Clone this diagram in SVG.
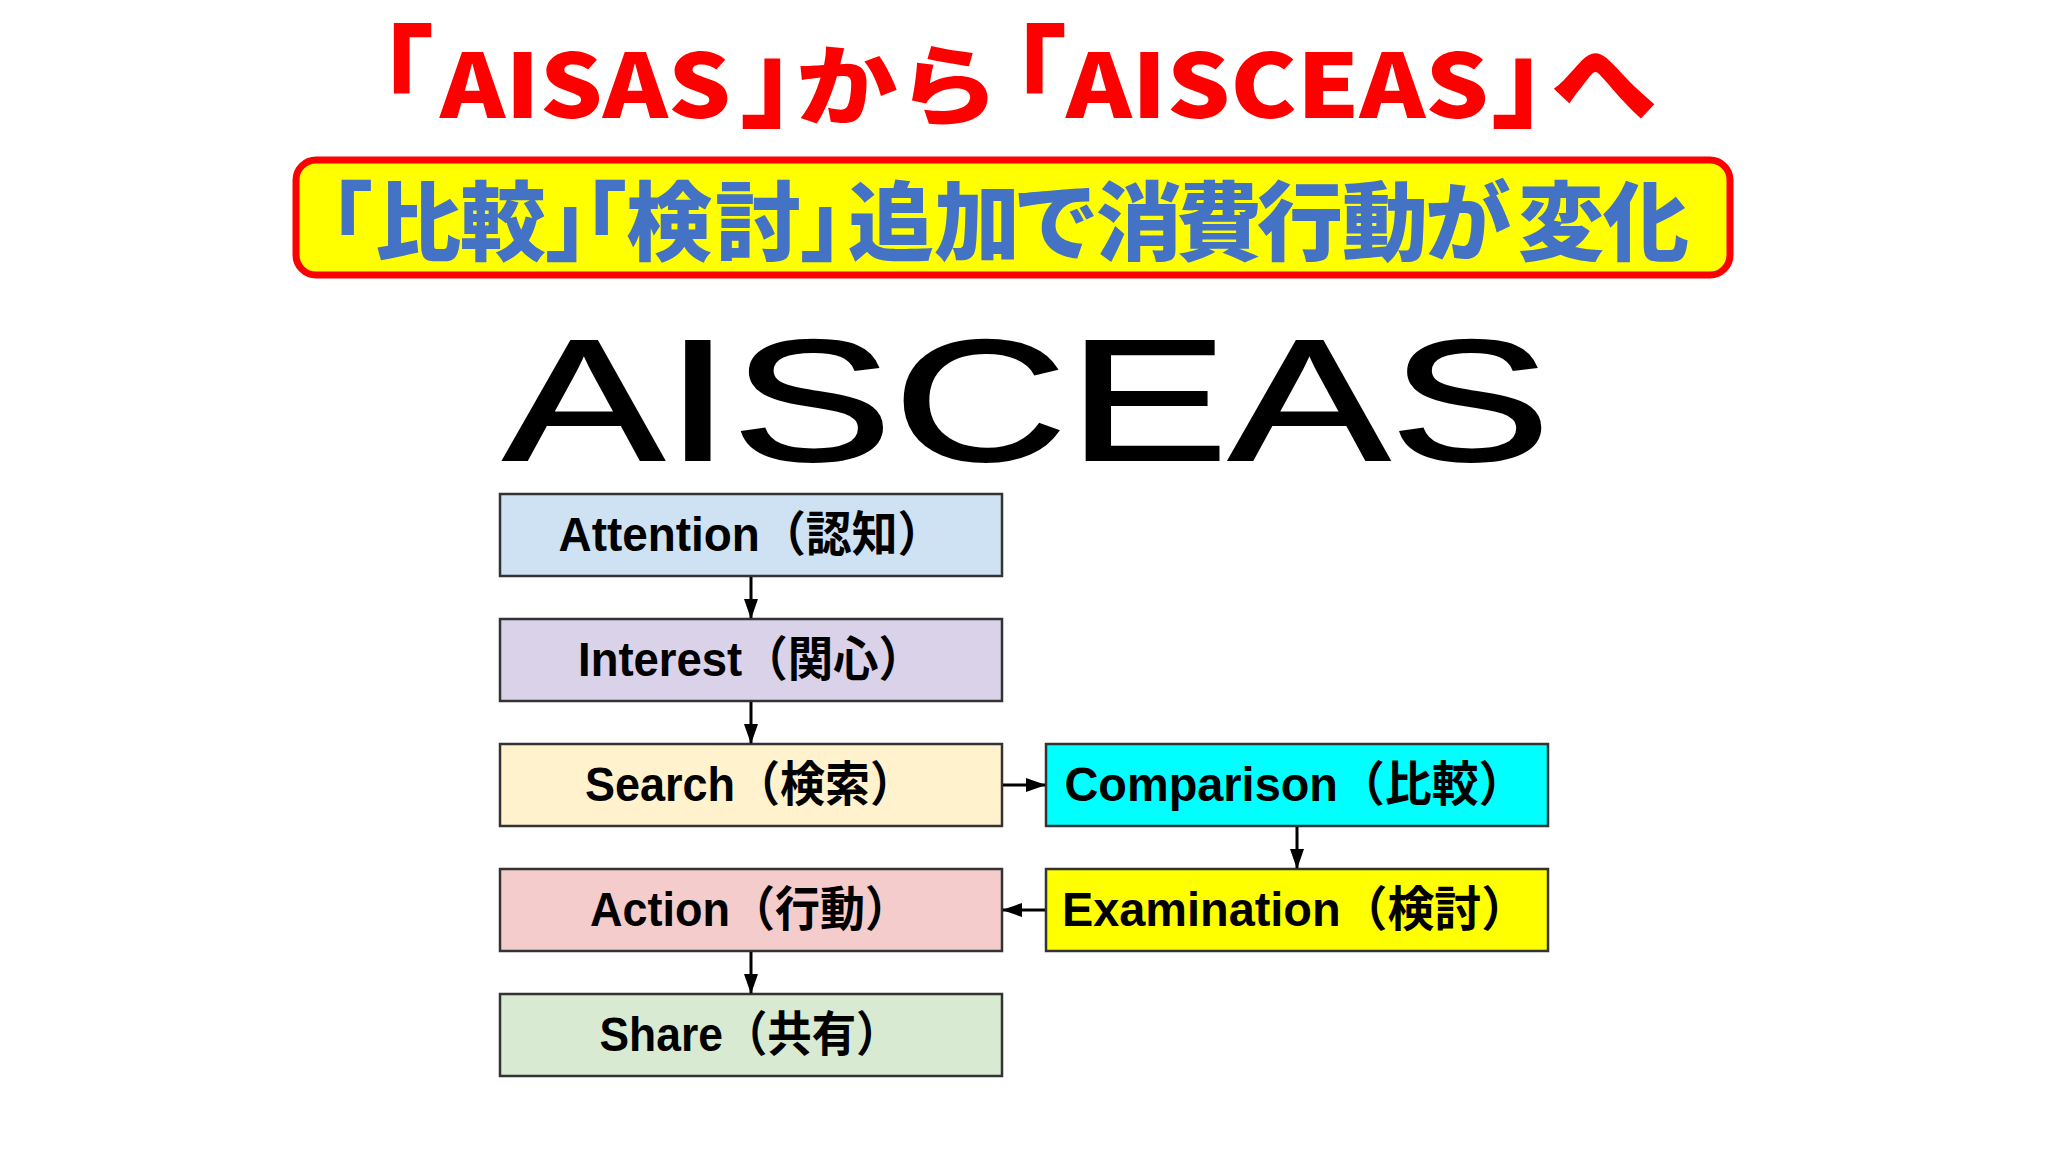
<svg xmlns="http://www.w3.org/2000/svg" width="2048" height="1152" viewBox="0 0 2048 1152">
<defs>
<marker id="ah" markerWidth="20" markerHeight="14" refX="19" refY="7" orient="auto" markerUnits="userSpaceOnUse" viewBox="0 0 20 14">
<path d="M0,0 L20,7 L0,14 Z" fill="#000"/>
</marker>
</defs>
<style>
.box{stroke:#333;stroke-width:2.5}
.lbl{font-family:"Liberation Sans","Noto Sans CJK JP",sans-serif;font-weight:bold;font-size:48px;fill:#000;text-anchor:middle}
.con{stroke:#000;stroke-width:3;fill:none;marker-end:url(#ah)}
.t{font-family:"Noto Sans CJK JP",sans-serif;font-weight:900;fill:#ff0000}
.br{font-size:110px;font-feature-settings:"halt" 1}
</style>
<rect width="2048" height="1152" fill="#fff"/>
<g id="title">
<text class="t" y="118" font-size="88"><tspan class="br" x="379">「</tspan><tspan x="440" textLength="291" lengthAdjust="spacingAndGlyphs">AISAS</tspan><tspan class="br" x="740">」</tspan><tspan x="796" textLength="203" lengthAdjust="spacingAndGlyphs">から</tspan><tspan class="br" x="1012">「</tspan><tspan x="1066" textLength="423" lengthAdjust="spacingAndGlyphs">AISCEAS</tspan><tspan class="br" x="1491">」</tspan><tspan x="1551" font-size="96" textLength="106" lengthAdjust="spacingAndGlyphs">へ</tspan></text>
</g>
<g id="subtitle">
<rect x="296" y="160" width="1434" height="115" rx="20" ry="20" fill="#ffff00" stroke="#ff0000" stroke-width="7"/>
<text x="287 375 460 545 541 626 715 800 848 934 1013 1096 1176 1257 1342 1425 1518 1603" y="254" font-family="Noto Sans CJK JP, sans-serif" font-weight="900" font-size="86" fill="#4472c4">「比較」「検討」追加で消費行動が変化</text>
</g>
<g id="heading">
<text x="503" y="460" font-family="Liberation Sans, Arial, sans-serif" font-size="172" fill="#000" stroke="#000" stroke-width="2" textLength="1048" lengthAdjust="spacingAndGlyphs">AISCEAS</text>
</g>
<g id="attention">
<rect class="box" x="500" y="494" width="502" height="82" fill="#cfe2f3"/>
<text class="lbl" x="751" y="551" textLength="385" lengthAdjust="spacingAndGlyphs">Attention（認知）</text>
</g>
<g id="interest">
<rect class="box" x="500" y="619" width="502" height="82" fill="#d9d2e9"/>
<text class="lbl" x="751" y="676" textLength="346" lengthAdjust="spacingAndGlyphs">Interest（関心）</text>
</g>
<g id="search">
<rect class="box" x="500" y="744" width="502" height="82" fill="#fff2cc"/>
<text class="lbl" x="750" y="801" textLength="330" lengthAdjust="spacingAndGlyphs">Search（検索）</text>
</g>
<g id="comparison">
<rect class="box" x="1046" y="744" width="502" height="82" fill="#00ffff"/>
<text class="lbl" x="1295" y="801" textLength="461" lengthAdjust="spacingAndGlyphs">Comparison（比較）</text>
</g>
<g id="examination">
<rect class="box" x="1046" y="869" width="502" height="82" fill="#ffff00"/>
<text class="lbl" x="1295" y="926" textLength="466" lengthAdjust="spacingAndGlyphs">Examination（検討）</text>
</g>
<g id="action">
<rect class="box" x="500" y="869" width="502" height="82" fill="#f4cccc"/>
<text class="lbl" x="750" y="926" textLength="320" lengthAdjust="spacingAndGlyphs">Action（行動）</text>
</g>
<g id="share">
<rect class="box" x="500" y="994" width="502" height="82" fill="#d9ead3"/>
<text class="lbl" x="750" y="1051" textLength="301" lengthAdjust="spacingAndGlyphs">Share（共有）</text>
</g>
<g id="connectors">
<line class="con" x1="751" y1="577" x2="751" y2="618"/>
<line class="con" x1="751" y1="702" x2="751" y2="743"/>
<line class="con" x1="1003" y1="785" x2="1045" y2="785"/>
<line class="con" x1="1297" y1="827" x2="1297" y2="868"/>
<line class="con" x1="1045" y1="910" x2="1003" y2="910"/>
<line class="con" x1="751" y1="952" x2="751" y2="993"/>
</g>
</svg>
